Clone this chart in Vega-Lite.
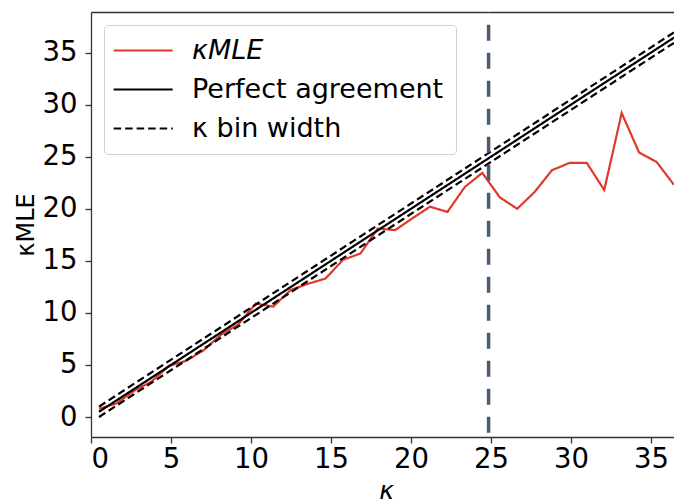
{
  "$schema": "https://vega.github.io/schema/vega-lite/v6.json",
  "width": 583,
  "height": 425,
  "autosize": {"type": "none"},
  "padding": {"left": 91, "top": 12, "right": 0, "bottom": 67},
  "background": "white",
  "config": {
    "view": {"stroke": null},
    "font": "DejaVu Sans",
    "axis": {
      "labelFont": "DejaVu Sans",
      "titleFont": "DejaVu Sans",
      "labelFontSize": 27.5,
      "titleFontSize": 25,
      "labelColor": "black",
      "titleColor": "black",
      "titleFontWeight": "normal",
      "domainColor": "#333333",
      "domainWidth": 1.3,
      "tickColor": "#333333",
      "tickWidth": 1.3,
      "tickSize": 6,
      "grid": false
    },
    "legend": {
      "orient": "top-left",
      "offset": 13,
      "padding": 12,
      "fillColor": "white",
      "strokeColor": "#d0d0d0",
      "cornerRadius": 4,
      "labelFont": "DejaVu Sans",
      "labelFontSize": 27,
      "labelColor": "black",
      "labelLimit": 400,
      "symbolType": "M-1.61,0H4.39",
      "symbolSize": 387,
      "symbolStrokeWidth": 2.2,
      "labelOffset": 49,
      "rowPadding": 11
    }
  },
  "resolve": {"axis": {"x": "independent"}},
  "layer": [
    {
      "data": {
        "values": [
          {"series": "κMLE", "part": "est", "k": 0.5, "v": 0.8},
          {"series": "κMLE", "part": "est", "k": 1.59, "v": 1.3},
          {"series": "κMLE", "part": "est", "k": 2.68, "v": 2.5},
          {"series": "κMLE", "part": "est", "k": 3.77, "v": 3.4},
          {"series": "κMLE", "part": "est", "k": 4.86, "v": 4.9},
          {"series": "κMLE", "part": "est", "k": 5.95, "v": 5.4},
          {"series": "κMLE", "part": "est", "k": 7.03, "v": 6.4},
          {"series": "κMLE", "part": "est", "k": 8.12, "v": 7.9},
          {"series": "κMLE", "part": "est", "k": 9.21, "v": 8.9},
          {"series": "κMLE", "part": "est", "k": 10.3, "v": 10.9},
          {"series": "κMLE", "part": "est", "k": 11.39, "v": 10.6},
          {"series": "κMLE", "part": "est", "k": 12.48, "v": 12.2},
          {"series": "κMLE", "part": "est", "k": 13.57, "v": 12.8},
          {"series": "κMLE", "part": "est", "k": 14.66, "v": 13.3},
          {"series": "κMLE", "part": "est", "k": 15.75, "v": 15.1},
          {"series": "κMLE", "part": "est", "k": 16.84, "v": 15.7},
          {"series": "κMLE", "part": "est", "k": 17.92, "v": 18.1},
          {"series": "κMLE", "part": "est", "k": 19.01, "v": 17.95},
          {"series": "κMLE", "part": "est", "k": 20.1, "v": 19.1},
          {"series": "κMLE", "part": "est", "k": 21.19, "v": 20.2},
          {"series": "κMLE", "part": "est", "k": 22.28, "v": 19.7},
          {"series": "κMLE", "part": "est", "k": 23.37, "v": 22.1},
          {"series": "κMLE", "part": "est", "k": 24.46, "v": 23.45},
          {"series": "κMLE", "part": "est", "k": 25.55, "v": 21.1},
          {"series": "κMLE", "part": "est", "k": 26.64, "v": 20.0},
          {"series": "κMLE", "part": "est", "k": 27.72, "v": 21.6},
          {"series": "κMLE", "part": "est", "k": 28.81, "v": 23.7},
          {"series": "κMLE", "part": "est", "k": 29.9, "v": 24.4},
          {"series": "κMLE", "part": "est", "k": 30.99, "v": 24.4},
          {"series": "κMLE", "part": "est", "k": 32.08, "v": 21.8},
          {"series": "κMLE", "part": "est", "k": 33.17, "v": 29.2},
          {"series": "κMLE", "part": "est", "k": 34.26, "v": 25.4},
          {"series": "κMLE", "part": "est", "k": 35.35, "v": 24.5},
          {"series": "κMLE", "part": "est", "k": 36.44, "v": 22.3},
          {"series": "Perfect agreement", "part": "diag", "k": 0.5, "v": 0.5},
          {"series": "Perfect agreement", "part": "diag", "k": 36.44, "v": 36.44},
          {"series": "κ bin width", "part": "lower", "k": 0.5, "v": 0.0},
          {"series": "κ bin width", "part": "lower", "k": 36.44, "v": 35.94},
          {"series": "κ bin width", "part": "upper", "k": 0.5, "v": 1.0},
          {"series": "κ bin width", "part": "upper", "k": 36.44, "v": 36.94}
        ]
      },
      "mark": {"type": "line", "strokeWidth": 2.2, "clip": true},
      "encoding": {
        "x": {
          "field": "k",
          "type": "quantitative",
          "scale": {"domain": [0, 36.44], "nice": false, "zero": false},
          "axis": {
            "orient": "bottom",
            "values": [0, 5, 10, 15, 20, 25, 30, 35],
            "title": "κ",
            "titleFontStyle": "italic",
            "titlePadding": 6,
            "titleX": 295,
            "labelPadding": 2
          }
        },
        "y": {
          "field": "v",
          "type": "quantitative",
          "scale": {"domain": [-1.92, 38.9], "nice": false, "zero": false},
          "axis": {
            "values": [0, 5, 10, 15, 20, 25, 30, 35],
            "title": "κMLE",
            "titleFontSize": 24,
            "titlePadding": 4,
            "labelPadding": 8
          }
        },
        "color": {
          "field": "series",
          "type": "nominal",
          "scale": {
            "domain": ["κMLE", "Perfect agreement", "κ bin width"],
            "range": ["#e0392c", "#000000", "#000000"]
          },
          "legend": {
            "title": null,
            "labelFontStyle": {"expr": "datum.label === 'κMLE' ? 'italic' : 'normal'"}
          }
        },
        "strokeDash": {
          "field": "series",
          "type": "nominal",
          "scale": {
            "domain": ["κMLE", "Perfect agreement", "κ bin width"],
            "range": [[1, 0], [1, 0], [7.5, 4]]
          },
          "legend": {
            "title": null,
            "labelFontStyle": {"expr": "datum.label === 'κMLE' ? 'italic' : 'normal'"}
          }
        },
        "detail": {"field": "part"}
      }
    },
    {
      "data": {"values": [{"marker": "threshold"}]},
      "mark": {
        "type": "rule",
        "color": "#4a5a72",
        "strokeWidth": 3.5,
        "strokeDash": [16, 12],
        "strokeDashOffset": 15.3
      },
      "encoding": {
        "x": {
          "datum": 24.85,
          "type": "quantitative",
          "axis": {
            "orient": "top",
            "labels": false,
            "ticks": false,
            "title": null,
            "domain": true
          }
        }
      }
    }
  ]
}
